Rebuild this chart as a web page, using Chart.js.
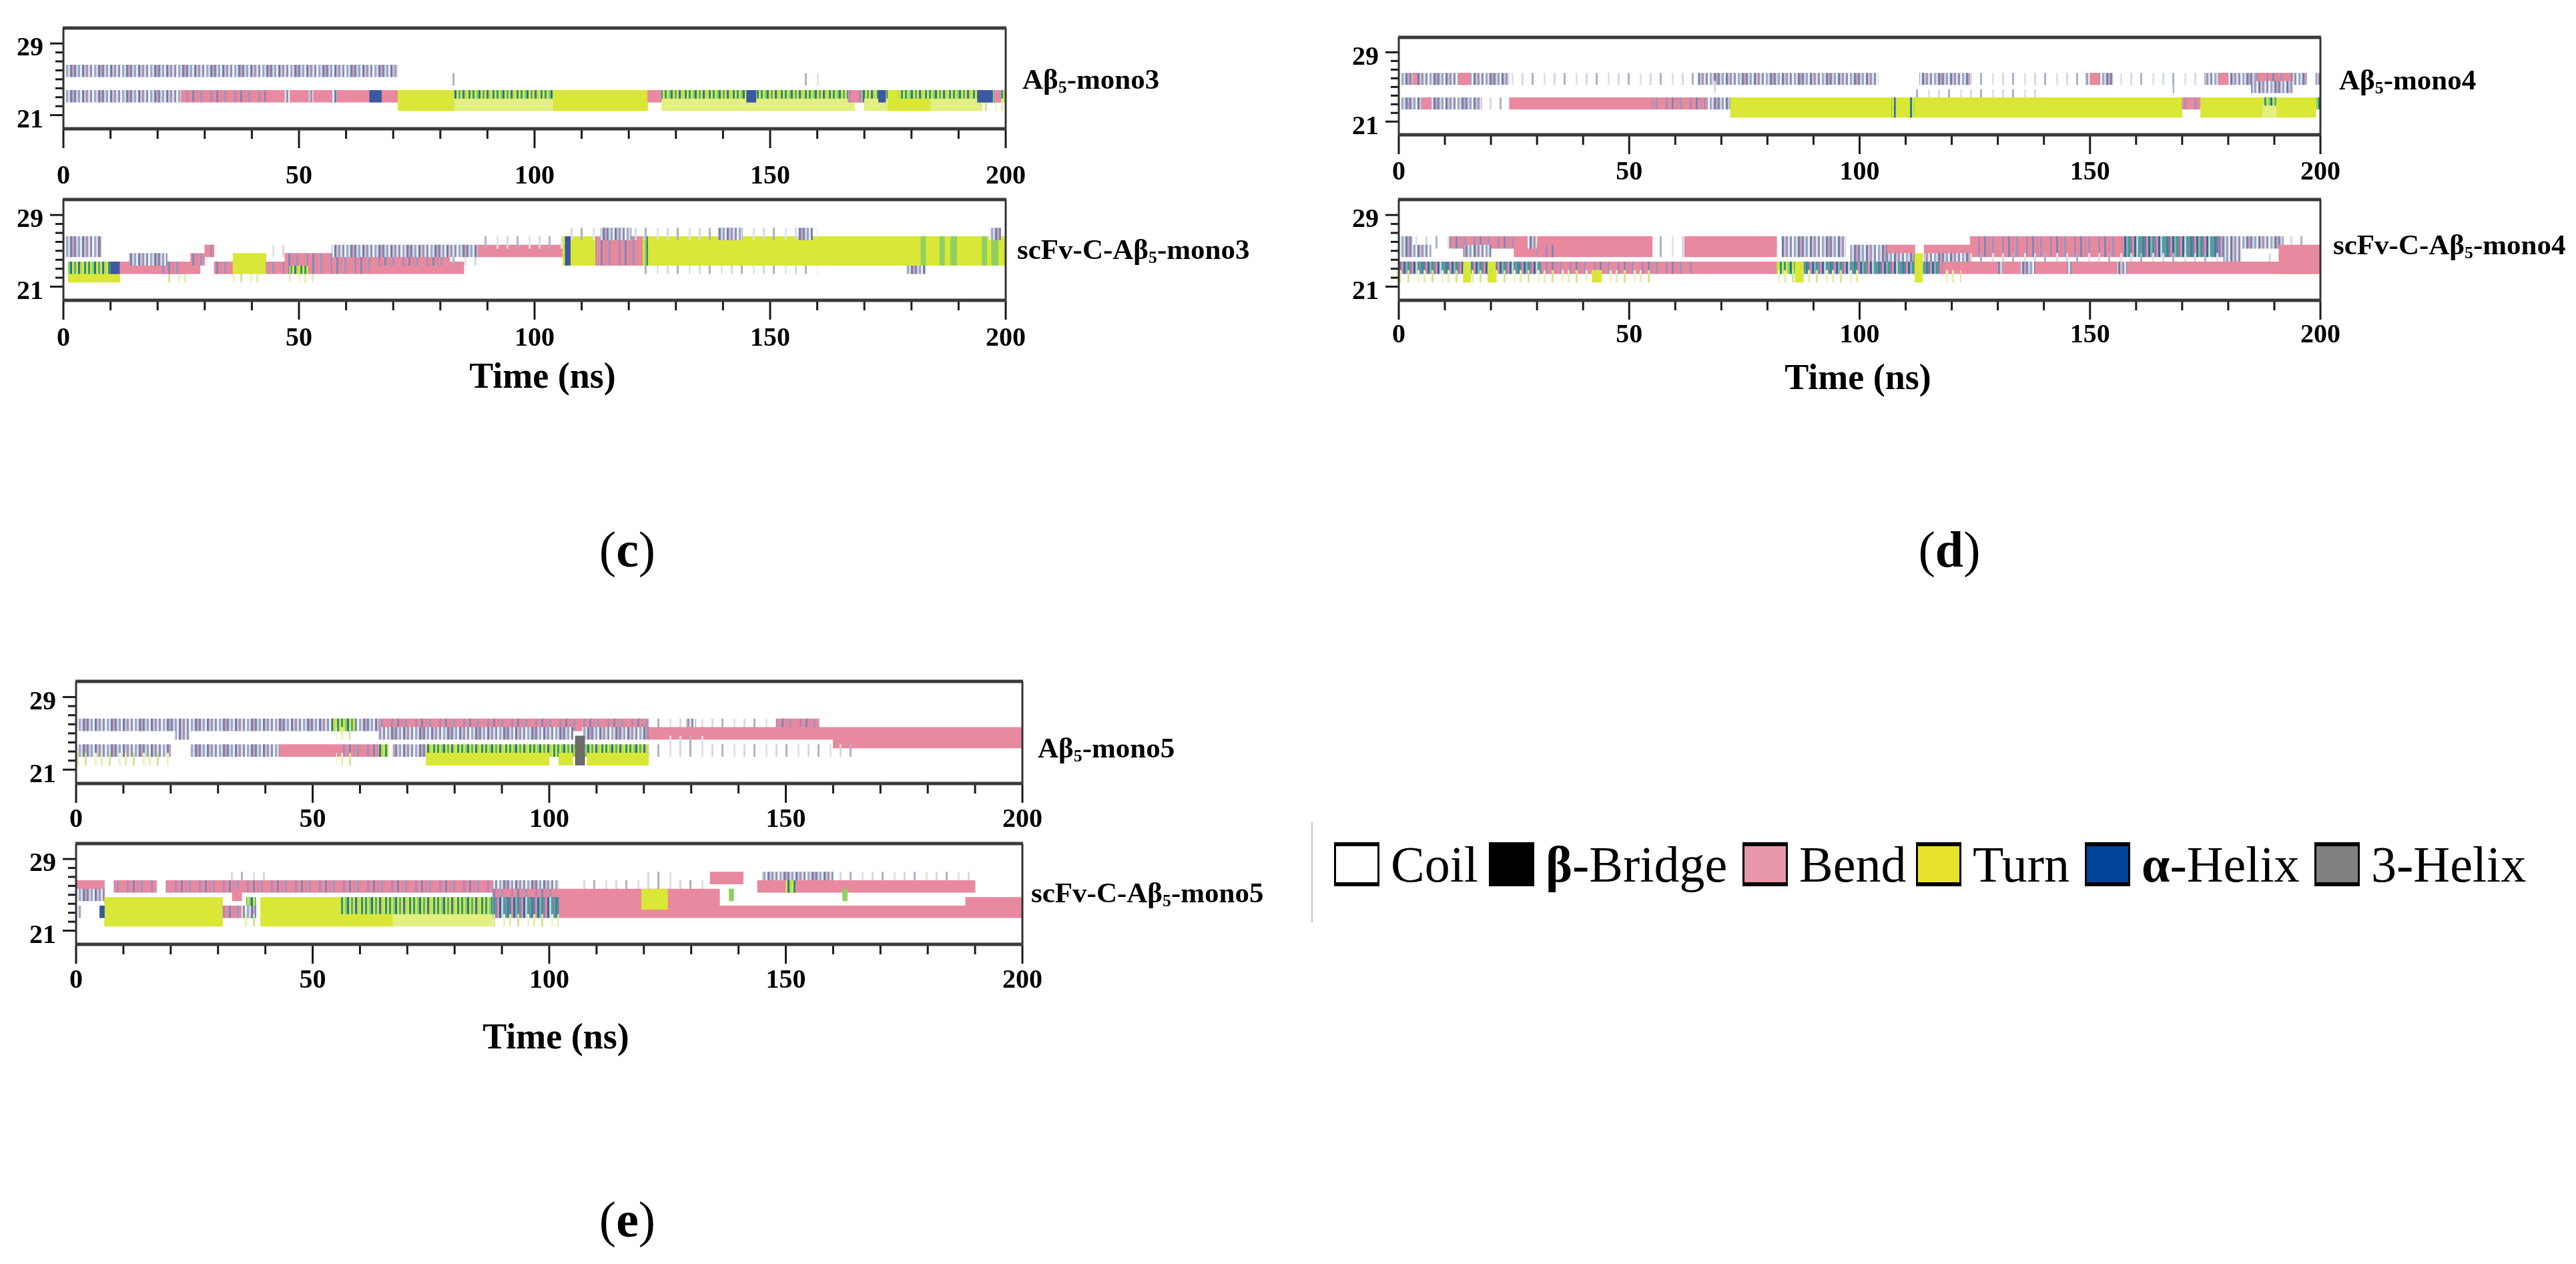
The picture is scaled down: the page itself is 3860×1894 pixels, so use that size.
<!DOCTYPE html>
<html>
<head>
<meta charset="utf-8">
<script src="https://cdn.jsdelivr.net/npm/chart.js@4.4.1/dist/chart.umd.min.js"></script>
<style>
  body { margin: 0; width: 3860px; height: 1894px; background: #fff; position: relative; overflow: hidden; font-family: 'Liberation Serif', 'DejaVu Serif', serif; color: #000; }
  .panel { position: absolute; }
  .panel canvas { display: block; }
  .name { position: absolute; font-weight: bold; font-size: 43px; white-space: nowrap; transform: translateY(-50%); }
  .name sub { font-size: 60%; vertical-align: -0.25em; line-height: 0; }
  .time { position: absolute; font-weight: bold; font-size: 54px; white-space: nowrap; transform: translate(-50%, -50%); }
  .letter { position: absolute; font-size: 76px; white-space: nowrap; transform: translate(-50%, -50%); }
  .sep { position: absolute; left: 1965px; top: 1232px; width: 2px; height: 150px; background: #b9c2d6; }
  .lg-box { position: absolute; box-sizing: border-box; width: 68px; height: 66px; border-top: 6px solid #000; border-bottom: 6px solid #000; border-left: 3px solid #000; border-right: 3px solid #000; top: 1262px; }
  .lg-text { position: absolute; font-size: 76px; white-space: nowrap; top: 1295px; transform: translateY(-50%); }
</style>
</head>
<body>
<script>
// ---- data ----
const TIME_TICKS = [0, 50, 100, 150, 200];
const RESIDUE_TICKS = [21, 29];
const SERIES_LABELS = ['Aβ5-mono3', 'scFv-C-Aβ5-mono3', 'Aβ5-mono4', 'scFv-C-Aβ5-mono4', 'Aβ5-mono5', 'scFv-C-Aβ5-mono5'];
const PANEL_LETTERS = ['c', 'd', 'e'];
const LEGEND_NAMES = ['Coil', 'β-Bridge', 'Bend', 'Turn', 'α-Helix', '3-Helix'];

// segments: [start ns, end ns, first row, last row, state]
// rows 0..5 go from residue ~21 up to ~28
const SEG_C1 = [
  [0, 71, 4, 4, 'S'], [79, 80, 4, 4, 'F'], [81, 84, 3, 3, 'F'], [157, 158, 3, 3, 'F'], [160, 162, 3, 3, 'F'],
  [0, 25, 1, 1, 'S'], [25, 43, 1, 1, 'PM'], [43, 65, 1, 1, 'B'], [47, 48, 1, 1, 'S'], [52, 53, 1, 1, 'S'], [57, 58, 1, 1, 'S'],
  [65, 67.6, 1, 1, 'A'], [67.6, 71, 1, 1, 'B'],
  [71, 83, 0, 1, 'T'], [83, 104, 1, 1, 'G'], [83, 104, 0, 0, 'TL'], [104, 124, 0, 1, 'T'], [124, 127, 1, 1, 'B'], [127, 200, 1, 1, 'G'],
  [127, 168, 0, 0, 'TL'], [170, 175, 0, 0, 'TL'], [175, 184, 0, 0, 'T'], [184, 195, 0, 0, 'TL'], [195, 200, 0, 0, 'LF'],
  [145, 147, 1, 1, 'A'], [166.5, 169.5, 1, 1, 'PM'], [173, 174.5, 1, 1, 'A'], [175, 177, 1, 1, 'T'], [194, 197, 1, 1, 'A'], [197.5, 199, 1, 1, 'PM']
];
const SEG_C2 = [
  [1, 12, 0, 0, 'T'], [22, 26, 0, 0, 'LF'], [36, 42, 0, 0, 'LF'], [48, 53, 0, 0, 'LF'],
  [1, 10, 1, 1, 'G'], [10, 12, 1, 1, 'A'], [12, 29, 1, 1, 'B'], [20, 26, 1, 1, 'PM'], [32, 36, 1, 1, 'PM'], [36, 43, 1, 2, 'T'],
  [43, 48, 1, 1, 'PM'], [48, 52, 1, 1, 'G'], [52, 65, 1, 1, 'PM'], [65, 85, 1, 1, 'B'], [122, 160, 1, 1, 'F'], [178.8, 183, 1, 1, 'S'],
  [14, 22, 2, 2, 'S'], [27, 30, 2, 2, 'PM'], [47, 82, 2, 2, 'PM'], [82, 88, 2, 2, 'F'],
  [0, 8, 3, 4, 'S'], [30, 32, 3, 3, 'PM'], [44, 47, 3, 3, 'F'], [57, 88, 3, 3, 'S'], [88, 106, 3, 3, 'B'], [88, 106, 4, 4, 'F'],
  [106, 200, 2, 4, 'T'], [106.5, 107.6, 2, 4, 'A'], [113, 123, 2, 4, 'PM'], [123, 124, 2, 4, 'G'],
  [182, 183, 2, 4, 'GS'], [186, 187, 2, 4, 'GS'], [188.3, 189.6, 2, 4, 'GS'], [195, 196, 2, 4, 'GS'], [197, 198.4, 2, 4, 'GS'],
  [106, 160, 5, 5, 'F'], [114, 120.5, 5, 5, 'S'], [139, 144, 5, 5, 'S'], [156, 159, 5, 5, 'S'], [196.5, 199, 5, 5, 'S']
];
const SEG_D1 = [
  [0, 24, 4, 4, 'S'], [3, 4, 4, 4, 'B'], [13, 15.5, 4, 4, 'B'], [24, 65, 4, 4, 'F'], [65, 104, 4, 4, 'S'], [113, 124, 4, 4, 'S'],
  [124, 148, 4, 4, 'F'], [149, 155, 4, 4, 'S'], [150, 152, 4, 4, 'B'], [155, 175, 4, 4, 'F'], [175, 197, 4, 4, 'S'],
  [178, 180, 4, 4, 'B'], [186, 194, 4, 4, 'PM'], [199, 200, 4, 4, 'S'],
  [67, 69, 3, 3, 'F'], [168, 169, 3, 3, 'F'], [185, 194, 3, 3, 'S'], [112, 140, 2, 2, 'F'],
  [0, 10, 1, 1, 'S'], [5, 7, 1, 1, 'B'], [10, 18, 1, 1, 'S'], [18, 24, 1, 1, 'F'], [24, 55, 1, 1, 'B'], [55, 67, 1, 1, 'PM'], [67, 72, 1, 1, 'S'],
  [72, 170, 0, 1, 'T'], [107, 107.8, 0, 1, 'G'], [111, 111.8, 0, 1, 'G'], [170, 174, 1, 1, 'PM'], [174, 187.5, 0, 1, 'T'],
  [187.5, 190.5, 1, 1, 'G'], [187.5, 190.5, 0, 0, 'TL'], [190.5, 199, 0, 1, 'T'], [199, 200, 1, 1, 'G']
];
const SEG_D2 = [
  [0, 3, 4, 4, 'S'], [3, 11, 4, 4, 'F'], [11, 25, 4, 4, 'PM'], [25, 55, 3, 4, 'B'], [28, 30, 4, 4, 'S'], [30, 34, 3, 3, 'PM'],
  [56, 62, 3, 4, 'F'], [62, 82, 3, 4, 'B'], [83, 97, 3, 4, 'S'], [124, 157, 3, 4, 'PM'], [157, 178, 3, 4, 'TM'],
  [178, 183, 3, 4, 'S'], [183, 192, 4, 4, 'S'], [192, 197, 4, 4, 'F'],
  [0, 7, 3, 3, 'S'], [14, 20, 3, 3, 'S'], [98, 106, 3, 3, 'S'], [106, 112, 3, 3, 'B'], [114, 124, 3, 3, 'B'], [191, 200, 1, 3, 'B'],
  [98, 112, 2, 2, 'S'], [114, 124, 2, 2, 'S'], [124, 180, 2, 2, 'F'], [179, 183, 2, 2, 'S'], [189, 191, 2, 2, 'F'],
  [0, 31, 1, 1, 'TM'], [31, 64, 1, 1, 'PM'], [64, 82, 1, 1, 'B'], [82, 87, 1, 1, 'G'], [87, 118, 1, 1, 'TM'], [118, 200, 1, 1, 'B'],
  [130, 131, 1, 1, 'S'], [135, 138, 1, 1, 'S'], [145, 146, 1, 1, 'S'], [156, 158, 1, 1, 'S'],
  [0, 56, 0, 0, 'LF'], [82, 100, 0, 0, 'LF'], [118, 122, 0, 0, 'LF'],
  [14, 15.6, 0, 1, 'T'], [19.3, 21, 0, 1, 'T'], [42, 44, 0, 0, 'T'], [86, 87.8, 0, 1, 'T'], [112, 113.7, 0, 2, 'T']
];
const SEG_E1 = [
  [0, 64, 4, 4, 'S'], [54, 59, 4, 4, 'G'], [64, 121, 4, 4, 'PM'], [121, 157, 4, 4, 'F'], [129, 131, 4, 4, 'S'], [148, 157, 4, 4, 'PM'],
  [21, 24, 3, 3, 'S'], [55, 58, 3, 3, 'LF'], [64, 105, 3, 3, 'S'], [107, 121, 3, 3, 'S'], [121, 200, 3, 3, 'B'],
  [124, 133, 2, 2, 'F'], [160, 200, 2, 2, 'B'],
  [0, 20, 1, 1, 'S'], [24, 43, 1, 1, 'S'], [43, 55, 1, 1, 'B'], [55, 64, 1, 1, 'PM'], [64, 66, 1, 1, 'G'], [67, 74, 1, 1, 'S'],
  [74, 121, 1, 1, 'G'], [121, 165, 1, 1, 'F'],
  [0, 20, 0, 0, 'LF'], [55, 59, 0, 0, 'LF'], [74, 100, 0, 0, 'T'], [102, 105, 0, 0, 'T'], [108, 121, 0, 0, 'T'],
  [105.5, 107.5, 0, 2, 'H3']
];
const SEG_E2 = [
  [15, 16, 5, 5, 'F'], [32, 40, 5, 5, 'F'], [120, 127, 5, 5, 'F'], [134, 141, 5, 5, 'B'], [145, 160, 5, 5, 'S'], [160, 190, 5, 5, 'F'],
  [0, 6, 4, 4, 'B'], [8, 17, 4, 4, 'PM'], [19, 88, 4, 4, 'PM'], [88, 102, 4, 4, 'S'], [107, 134, 4, 4, 'F'], [144, 190, 4, 4, 'B'], [150, 152, 4, 4, 'G'],
  [0, 6, 3, 3, 'S'], [33, 35, 3, 3, 'B'], [88, 102, 3, 3, 'PM'], [102, 136, 1, 3, 'B'], [119.5, 125, 2, 3, 'T'], [138, 139, 3, 3, 'GS'], [162, 163, 3, 3, 'GS'],
  [6, 31, 0, 2, 'T'], [36, 38, 1, 2, 'G'], [39, 56, 0, 2, 'T'], [56, 88, 1, 2, 'G'], [88, 102, 1, 2, 'TM'], [188, 200, 2, 2, 'B'],
  [0, 1, 1, 1, 'S'], [5, 6, 1, 1, 'A'], [31, 35, 1, 1, 'PM'], [35, 38, 1, 1, 'S'], [136, 200, 1, 1, 'B'],
  [35, 38, 0, 0, 'LF'], [56, 67, 0, 0, 'T'], [67, 88, 0, 0, 'TL'], [88, 102, 0, 0, 'LF']
];

// ---- styles ----
const SOLID = { B: '#e8899f', T: '#d9e736', TL: '#e3ef80', A: '#3b58a0', H3: '#6b6b6b', GS: '#8fd062' };
const STRIPES = {
  S: ['#7d88b2', '#cfd5df', '#9aa3c4', '#e9ecf1', '#6f7caa', '#c0c7d6', '#b08fb0', '#dde1e9', '#8593b6', '#f1f2f5', '#a0a9c6', '#d6dae3', '#7380ab', '#c9a0b8'],
  F: ['', '', '#d5dae3', '', '', '', '', '#aab3c9', '', '', '', '', '', '#e0e4ea', '', ''],
  LF: ['', '#e4f2a6', '', '', '', '#cfe98e', '', '', '', '', '#eaf5c0', ''],
  PM: ['#e8899f', '#e8899f', '#a98ab6', '#e8899f', '#e8899f', '#7f86b6', '#e8899f', '#d08aa6', '#e8899f', '#9a96bc', '#e8899f', '#e8899f'],
  G: ['#d6e63a', '#2e988c', '#d6e63a', '#8ccf5e', '#1f7a95', '#d6e63a', '#52b07c', '#d6e63a', '#3b6fa6', '#b7dc4a', '#d6e63a', '#27908d'],
  TM: ['#2a8f8e', '#6f7cb0', '#e8899f', '#1f7894', '#9aa3c4', '#3aa07e', '#8a7fb4', '#e8899f', '#2c6aa0', '#c8cfdc', '#46a585', '#7d88b2']
};
const LEGEND_COLORS = ['#ffffff', '#000000', '#e897a8', '#e8e22a', '#00449a', '#808080'];

const patterns = {};
function makePattern(cols) {
  const w = 3;
  const c = document.createElement('canvas');
  c.width = cols.length * w; c.height = 4;
  const g = c.getContext('2d');
  cols.forEach((col, i) => { if (col) { g.fillStyle = col; g.fillRect(i * w, 0, w, 4); } });
  return g.createPattern(c, 'repeat');
}
Object.keys(STRIPES).forEach(k => { patterns[k] = makePattern(STRIPES[k]); });
function fillFor(state) { return SOLID[state] || patterns[state]; }

// layout of each small plot (pixel box of its plot area)
const PANELS = [
  { seg: SEG_C1, name: 0, l: 95, t: 28, r: 1507, b: 193, gap: 48, nameX: 1532, nameY: 118 },
  { seg: SEG_C2, name: 1, l: 95, t: 285, r: 1507, b: 450, gap: 34, nameX: 1524, nameY: 373 },
  { seg: SEG_D1, name: 2, l: 2096, t: 42, r: 3477, b: 202, gap: 33, nameX: 3505, nameY: 119 },
  { seg: SEG_D2, name: 3, l: 2096, t: 285, r: 3477, b: 450, gap: 29, nameX: 3496, nameY: 366 },
  { seg: SEG_E1, name: 4, l: 114, t: 1007, r: 1532, b: 1174, gap: 31, nameX: 1555, nameY: 1120 },
  { seg: SEG_E2, name: 5, l: 114, t: 1250, r: 1532, b: 1415, gap: 31, nameX: 1545, nameY: 1337 }
];
const Y_MIN = 20.1, Y_MAX = 30.1;      // residue axis
const ROW_MIN = -1.65, ROW_MAX = 7.88;  // row axis lined up with the residue axis
const LEFT_W = 110, BOTTOM_H = 100, PAD_T = 10, PAD_R = 50;

const frameAndTicks = {
  id: 'frameAndTicks',
  afterDraw(chart) {
    const { ctx, chartArea: a, scales } = chart;
    ctx.save();
    ctx.strokeStyle = '#1a1a1a';
    ctx.lineWidth = 3;
    scales.x.ticks.forEach(t => {
      const px = scales.x.getPixelForValue(t.value);
      const len = TIME_TICKS.includes(t.value) ? 29 : 15;
      ctx.beginPath(); ctx.moveTo(px, a.bottom); ctx.lineTo(px, a.bottom + len); ctx.stroke();
    });
    scales.y.ticks.forEach(t => {
      const py = scales.y.getPixelForValue(t.value);
      const len = RESIDUE_TICKS.includes(t.value) ? 20 : 12;
      ctx.beginPath(); ctx.moveTo(a.left, py); ctx.lineTo(a.left - len, py); ctx.stroke();
    });
    ctx.strokeStyle = '#333';
    ctx.lineWidth = 3;
    ctx.beginPath();
    ctx.moveTo(a.left, a.top); ctx.lineTo(a.left, a.bottom);
    ctx.moveTo(a.right, a.top); ctx.lineTo(a.right, a.bottom);
    ctx.stroke();
    ctx.strokeStyle = '#3a3a3a';
    ctx.lineWidth = 5;
    ctx.beginPath();
    ctx.moveTo(a.left - 1, a.top); ctx.lineTo(a.right + 1, a.top);
    ctx.moveTo(a.left - 1, a.bottom); ctx.lineTo(a.right + 1, a.bottom);
    ctx.stroke();
    ctx.restore();
  }
};

function subHtml(s) { return s.replace('β5', 'β<sub>5</sub>'); }

function addDiv(cls, html, x, y) {
  const d = document.createElement('div');
  d.className = cls;
  d.innerHTML = html;
  d.style.left = x + 'px';
  d.style.top = y + 'px';
  document.body.appendChild(d);
  return d;
}

PANELS.forEach(p => {
  const w = (p.r - p.l) + LEFT_W + PAD_R;
  const h = (p.b - p.t) + PAD_T + BOTTOM_H;
  const holder = document.createElement('div');
  holder.className = 'panel';
  holder.style.left = (p.l - LEFT_W) + 'px';
  holder.style.top = (p.t - PAD_T) + 'px';
  holder.style.width = w + 'px';
  holder.style.height = h + 'px';
  const canvas = document.createElement('canvas');
  canvas.width = w;
  canvas.height = h;
  canvas.style.width = w + 'px';
  canvas.style.height = h + 'px';
  holder.appendChild(canvas);
  document.body.appendChild(holder);

  const rowPx = (p.b - p.t) / (ROW_MAX - ROW_MIN);
  const bars = [];
  p.seg.forEach(s => {
    for (let r = s[2]; r <= s[3]; r++) bars.push({ x: [s[0], s[1]], y: r, s: s[4] });
  });

  new Chart(canvas, {
    type: 'bar',
    data: {
      datasets: [{
        data: bars,
        yAxisID: 'row',
        xAxisID: 'x',
        grouped: false,
        barThickness: rowPx + 0.6,
        borderWidth: 0,
        borderSkipped: false,
        backgroundColor: ctx => fillFor(ctx.raw ? ctx.raw.s : 'B')
      }]
    },
    options: {
      indexAxis: 'y',
      responsive: false,
      maintainAspectRatio: false,
      devicePixelRatio: 1,
      animation: false,
      layout: { padding: { left: 0, right: PAD_R, top: PAD_T, bottom: 0 } },
      plugins: { legend: { display: false }, tooltip: { enabled: false } },
      scales: {
        x: {
          type: 'linear', position: 'bottom', min: 0, max: 200,
          border: { display: false },
          grid: { drawOnChartArea: false, drawTicks: true, tickLength: p.gap, tickColor: 'rgba(0,0,0,0)' },
          ticks: {
            stepSize: 10, autoSkip: false, maxRotation: 0, padding: 0, color: '#000',
            font: { family: 'Liberation Serif', weight: 'bold', size: 40 },
            callback: v => TIME_TICKS.includes(v) ? String(v) : ''
          },
          afterFit: s => { s.height = BOTTOM_H; }
        },
        y: {
          type: 'linear', position: 'left', min: Y_MIN, max: Y_MAX,
          border: { display: false },
          grid: { drawOnChartArea: false, drawTicks: true, tickLength: 30, tickColor: 'rgba(0,0,0,0)' },
          afterBuildTicks: s => {
            const t = [];
            for (let v = RESIDUE_TICKS[0]; v <= RESIDUE_TICKS[1]; v++) t.push({ value: v });
            s.ticks = t;
          },
          ticks: {
            autoSkip: false, padding: 0, color: '#000', labelOffset: 8,
            font: { family: 'Liberation Serif', weight: 'bold', size: 40 },
            callback: v => RESIDUE_TICKS.includes(v) ? String(v) : ''
          },
          afterFit: s => { s.width = LEFT_W; }
        },
        row: {
          type: 'linear', position: 'left', display: false, min: ROW_MIN, max: ROW_MAX,
          ticks: { stepSize: 1, includeBounds: false }
        }
      }
    },
    plugins: [frameAndTicks]
  });

  addDiv('name', subHtml(SERIES_LABELS[p.name]), p.nameX, p.nameY);
});

// axis titles and panel letters
addDiv('time', 'Time (ns)', 813, 563);
addDiv('time', 'Time (ns)', 2784, 565);
addDiv('time', 'Time (ns)', 833, 1553);
addDiv('letter', '(<b>' + PANEL_LETTERS[0] + '</b>)', 940, 823);
addDiv('letter', '(<b>' + PANEL_LETTERS[1] + '</b>)', 2921, 823);
addDiv('letter', '(<b>' + PANEL_LETTERS[2] + '</b>)', 940, 1827);

// legend
const sep = document.createElement('div');
sep.className = 'sep';
document.body.appendChild(sep);
const LG_BOX_X = [1999, 2231, 2611, 2871, 3124, 3468];
LEGEND_NAMES.forEach((n, i) => {
  const b = addDiv('lg-box', '', LG_BOX_X[i], 1262);
  b.style.background = LEGEND_COLORS[i];
  const html = n.replace(/^([βα])/, '<b>$1</b>');
  addDiv('lg-text', html, LG_BOX_X[i] + 85, 1295);
});
</script>
</body>
</html>
